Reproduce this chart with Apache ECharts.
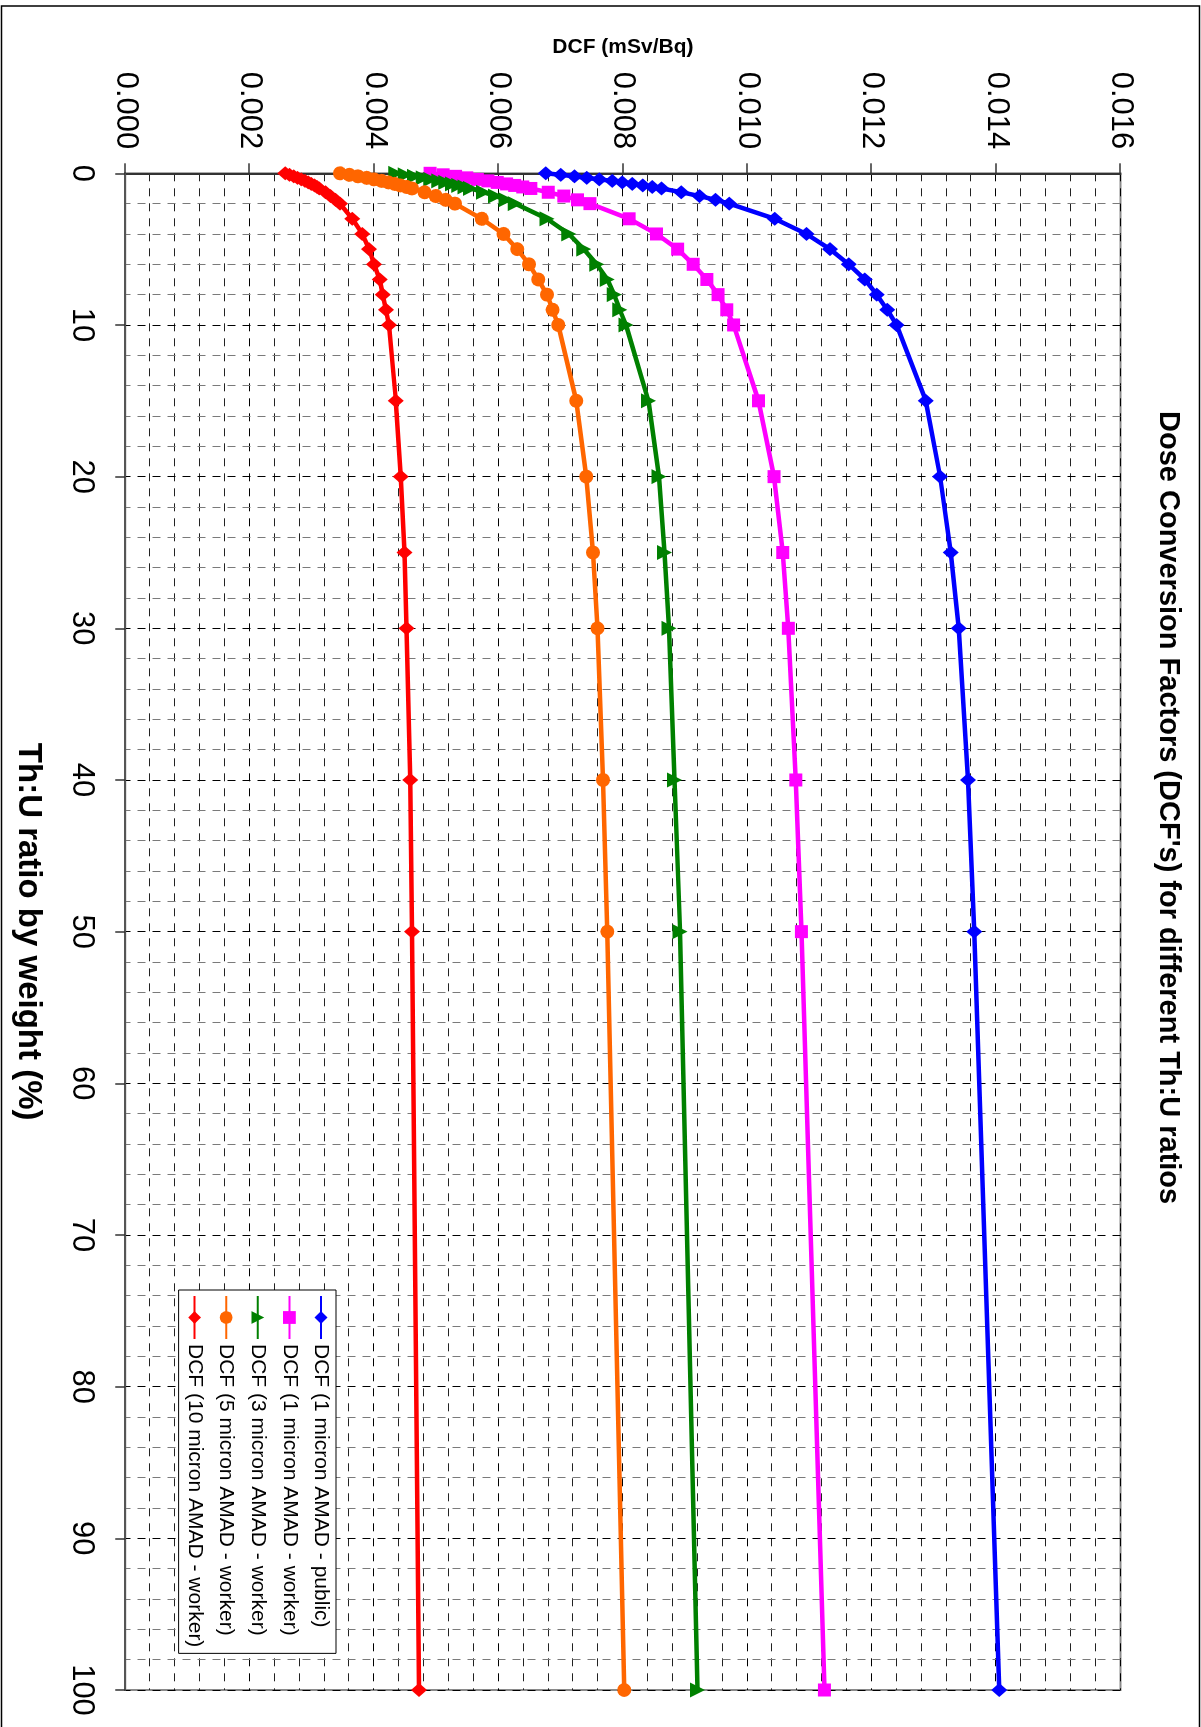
<!DOCTYPE html>
<html>
<head>
<meta charset="utf-8">
<script src="https://cdn.jsdelivr.net/npm/echarts@6/dist/echarts.min.js"></script>
<style>
html,body{margin:0;padding:0;background:#fff;}
#wrap{position:absolute;left:0;top:0;width:1201px;height:1727px;overflow:hidden;background:#fff;}
#chart{position:absolute;left:0;top:0;width:1727px;height:1201px;transform-origin:0 0;transform:translate(1201px,0) rotate(90deg);}
</style>
</head>
<body>
<div id="wrap"><div id="chart"></div></div>
<script>
// Th:U ratio by weight (%)
const thU = [0, 0.1, 0.2, 0.3, 0.4, 0.5, 0.6, 0.7, 0.8, 0.9, 1, 1.25, 1.5, 1.75, 2, 3, 4, 5, 6, 7, 8, 9, 10, 15, 20, 25, 30, 40, 50, 100];

// DCF (mSv/Bq)
const dcf1Public = [0.00676, 0.00700, 0.00722, 0.00742, 0.00762, 0.00783, 0.00799, 0.00815, 0.00832, 0.00847, 0.00862, 0.00894, 0.00923, 0.00949, 0.00971, 0.01044, 0.01095, 0.01133, 0.01163, 0.01189, 0.01208, 0.01225, 0.01240, 0.01287, 0.01310, 0.01327, 0.01340, 0.01355, 0.01365, 0.01405];
const dcf1Worker = [0.00490, 0.00511, 0.00531, 0.00549, 0.00566, 0.00583, 0.00598, 0.00613, 0.00626, 0.00639, 0.00652, 0.00680, 0.00705, 0.00727, 0.00747, 0.00810, 0.00854, 0.00888, 0.00913, 0.00935, 0.00953, 0.00967, 0.00978, 0.01018, 0.01043, 0.01057, 0.01066, 0.01078, 0.01087, 0.01124];
const dcf3Worker = [0.00435, 0.00450, 0.00465, 0.00479, 0.00491, 0.00504, 0.00515, 0.00526, 0.00536, 0.00546, 0.00555, 0.00576, 0.00595, 0.00612, 0.00627, 0.00678, 0.00713, 0.00737, 0.00758, 0.00775, 0.00786, 0.00795, 0.00805, 0.00841, 0.00858, 0.00867, 0.00874, 0.00883, 0.00892, 0.00920];
const dcf5Worker = [0.00345, 0.00360, 0.00374, 0.00388, 0.00400, 0.00412, 0.00423, 0.00433, 0.00442, 0.00452, 0.00461, 0.00481, 0.00499, 0.00515, 0.00530, 0.00573, 0.00608, 0.00630, 0.00649, 0.00664, 0.00678, 0.00687, 0.00696, 0.00725, 0.00741, 0.00752, 0.00759, 0.00768, 0.00775, 0.00802];
const dcf10Worker = [0.00257, 0.00264, 0.00271, 0.00277, 0.00283, 0.00289, 0.00294, 0.00299, 0.00304, 0.00308, 0.00312, 0.00322, 0.00330, 0.00338, 0.00345, 0.00365, 0.00381, 0.00392, 0.00400, 0.00409, 0.00414, 0.00419, 0.00424, 0.00435, 0.00443, 0.00449, 0.00452, 0.00458, 0.00461, 0.00472];

const seriesNames = [
  'DCF (1 micron AMAD - public)',
  'DCF (1 micron AMAD - worker)',
  'DCF (3 micron AMAD - worker)',
  'DCF (5 micron AMAD - worker)',
  'DCF (10 micron AMAD - worker)'
];
const seriesValues = [dcf1Public, dcf1Worker, dcf3Worker, dcf5Worker, dcf10Worker];
const seriesColors = ['#0000FF', '#FF00FF', '#008000', '#FF6600', '#FF0000'];
const seriesSymbols = ['diamond', 'rect', 'triangle', 'circle', 'diamond'];
const seriesSymbolSizes = [[14, 16], 13, 15, 14, [14, 16]];

const titleText = "Dose Conversion Factors (DCF's) for different Th:U ratios";
const xName = 'Th:U ratio by weight (%)';
const yName = 'DCF (mSv/Bq)';

const FONT = "'Liberation Sans', Arial, Helvetica, sans-serif";

const chart = echarts.init(document.getElementById('chart'), null, {renderer: 'canvas'});

const series = seriesNames.map((name, i) => ({
  name: name,
  type: 'line',
  data: thU.map((t, j) => [t, seriesValues[i][j]]),
  symbol: seriesSymbols[i],
  symbolSize: seriesSymbolSizes[i],
  showAllSymbol: true,
  color: seriesColors[i],
  lineStyle: {width: 4.5, color: seriesColors[i]},
  itemStyle: {color: seriesColors[i]},
  animation: false
}));

chart.setOption({
  backgroundColor: '#fff',
  animation: false,
  title: {
    text: titleText,
    left: 411,
    top: 18,
    padding: 0,
    textStyle: {fontFamily: FONT, fontSize: 29, fontWeight: 'bold', color: '#000'}
  },
  grid: {
    left: 173.3, right: 37, top: 80.5, bottom: 125.3,
    show: true, borderColor: '#8a8a8a', borderWidth: 2, backgroundColor: '#fff'
  },
  legend: {
    orient: 'vertical',
    left: 1290,
    top: 865,
    padding: [4, 6, 5, 5],
    itemGap: 9.6,
    itemWidth: 43,
    itemHeight: 16,
    backgroundColor: '#fff',
    borderColor: '#000',
    borderWidth: 1,
    borderRadius: 0,
    textStyle: {fontFamily: FONT, fontSize: 21, color: '#000', lineHeight: 22},
    data: seriesNames
  },
  xAxis: {
    type: 'value',
    min: 0, max: 100, interval: 10,
    name: xName,
    nameLocation: 'middle',
    nameGap: 81,
    nameTextStyle: {fontFamily: FONT, fontSize: 33, fontWeight: 'bold', color: '#000'},
    axisLine: {show: true, onZero: false, lineStyle: {color: '#555', width: 2}},
    axisTick: {show: true, inside: false, length: 10, lineStyle: {color: '#333', width: 1.5}},
    axisLabel: {fontFamily: FONT, fontSize: 31, color: '#000', margin: 28},
    splitLine: {show: true, lineStyle: {color: '#000', width: 1, type: [8, 7]}},
    minorTick: {show: false, splitNumber: 5},
    minorSplitLine: {show: true, lineStyle: {color: '#7a7a7a', width: 1, type: [8, 7]}}
  },
  yAxis: {
    type: 'value',
    min: 0, max: 0.016, interval: 0.002,
    name: yName,
    nameLocation: 'middle',
    nameRotate: 90,
    nameGap: 116,
    nameTextStyle: {fontFamily: FONT, fontSize: 21, fontWeight: 'bold', color: '#000'},
    axisLine: {show: true, onZero: false, lineStyle: {color: '#333', width: 2}},
    axisTick: {show: true, inside: false, length: 10, lineStyle: {color: '#333', width: 1.5}},
    axisLabel: {fontFamily: FONT, fontSize: 31, color: '#000', margin: 24, formatter: v => v.toFixed(3)},
    splitLine: {show: true, lineStyle: {color: '#000', width: 1, type: [8, 7]}},
    minorTick: {show: false, splitNumber: 5},
    minorSplitLine: {show: true, lineStyle: {color: '#222', width: 1, type: [8, 7]}}
  },
  graphic: [{
    type: 'rect',
    silent: true,
    z: 100,
    shape: {x: 6, y: 1.5, width: 1760, height: 1198},
    style: {fill: 'none', stroke: '#000', lineWidth: 1.5}
  }],
  series: series
});
</script>
</body>
</html>
